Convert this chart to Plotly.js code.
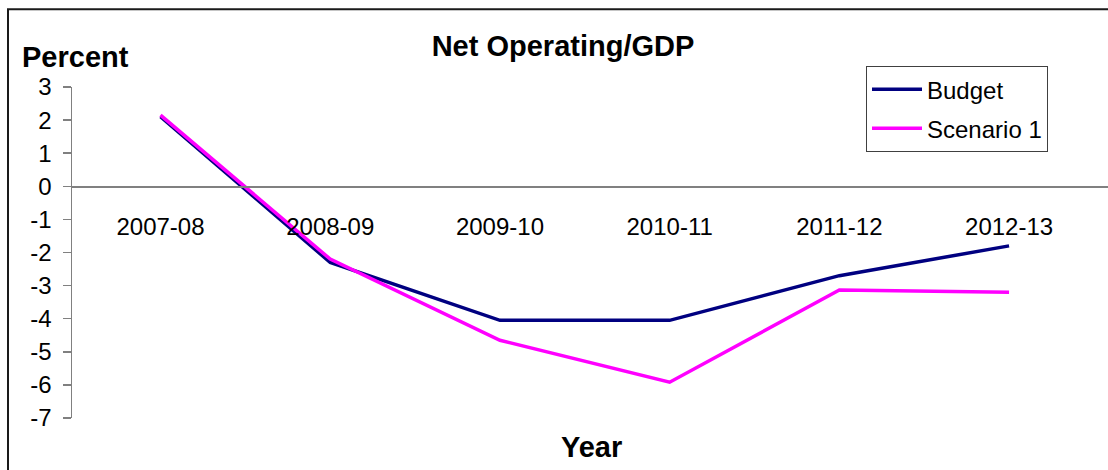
<!DOCTYPE html>
<html>
<head>
<meta charset="utf-8">
<script src="https://cdn.plot.ly/plotly-3.0.1.min.js"></script>
<style>
  html, body { margin: 0; padding: 0; background: #fff; }
  #chart { width: 1108px; height: 470px; }
</style>
</head>
<body>
<div id="chart"></div>
<script>
var years = ['2007-08', '2008-09', '2009-10', '2010-11', '2011-12', '2012-13'];
var budget = [2.1, -2.3, -4.05, -4.05, -2.7, -1.8];
var scenario1 = [2.15, -2.2, -4.65, -5.92, -3.13, -3.2];
var yTicks = [3, 2, 1, 0, -1, -2, -3, -4, -5, -6, -7];
var yTickLabels = ['3', '2', '1', '0', '-1', '-2', '-3', '-4', '-5', '-6', '-7'];

var font = 'Arial, "Liberation Sans", sans-serif';

function plot(element) {
    let traces = [
        {
            x: years, y: budget, name: 'Budget',
            mode: 'lines', type: 'scatter', legendgroup: 'a',
            line: { color: '#000080', width: 3.5 }
        },
        {
            x: years, y: scenario1, name: 'Scenario 1',
            mode: 'lines', type: 'scatter', legendgroup: 'b',
            line: { color: '#ff00ff', width: 3.5 }
        }
    ];
    let layout = {
        width: 1108, height: 470, autosize: false,
        margin: { l: 72, r: 0, t: 87, b: 52, pad: 0 },
        paper_bgcolor: '#fff', plot_bgcolor: '#fff',
        font: { family: font, color: '#000', size: 24 },
        title: {
            text: '<b>Net Operating/GDP</b>',
            font: { family: font, size: 29, color: '#000' },
            x: 563 / 1108, xanchor: 'center',
            y: 1 - 46 / 470, yanchor: 'middle'
        },
        showlegend: true,
        legend: {
            x: (866 - 72) / 1036, y: (418.6 - 66) / 331.6,
            xanchor: 'left', yanchor: 'top',
            bordercolor: '#404040', borderwidth: 1,
            bgcolor: '#fff',
            font: { family: font, size: 24, color: '#000' },
            tracegroupgap: 5, traceorder: 'grouped',
            itemwidth: 50
        },
        xaxis: {
            type: 'category',
            range: [-0.5215, 5.583],
            anchor: 'free', position: 0.7,
            showline: true, linecolor: '#808080', linewidth: 1.5,
            ticks: '', showgrid: false, zeroline: false,
            ticklabelstandoff: 18,
            tickfont: { family: font, size: 24, color: '#000' },
            fixedrange: true
        },
        yaxis: {
            range: [-7, 3],
            tickvals: yTicks, ticktext: yTickLabels,
            showline: true, linecolor: '#808080', linewidth: 1.5,
            ticks: 'outside', ticklen: 8, tickcolor: '#808080', tickwidth: 1.5,
            ticklabelstandoff: 6,
            showgrid: false, zeroline: false,
            tickfont: { family: font, size: 24, color: '#000' },
            fixedrange: true
        },
        annotations: [
            {
                text: '<b>Percent</b>', xref: 'paper', yref: 'paper',
                x: (20 - 72) / 1036, y: (418.6 - 56.5) / 331.6,
                xanchor: 'left', yanchor: 'middle', showarrow: false,
                font: { family: font, size: 29, color: '#000' }
            },
            {
                text: '<b>Year</b>', xref: 'paper', yref: 'paper',
                x: (591 - 72) / 1036, y: (418.6 - 448) / 331.6,
                xanchor: 'center', yanchor: 'middle', showarrow: false,
                font: { family: font, size: 29, color: '#000' }
            }
        ],
        shapes: [
            {
                type: 'rect', xref: 'paper', yref: 'paper',
                x0: (8 - 72) / 1036, x1: 1.2,
                y0: -0.5, y1: (418.6 - 9) / 331.6,
                line: { color: '#1a1a1a', width: 2 }, fillcolor: 'rgba(0,0,0,0)',
                layer: 'below'
            }
        ]
    };
    Plotly.newPlot(element, traces, layout, { staticPlot: true });
}

plot('chart');
</script>
</body>
</html>
